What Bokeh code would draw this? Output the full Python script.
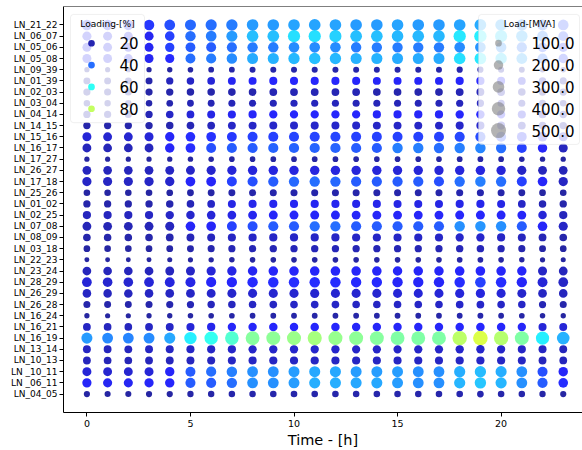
import numpy as np
from bokeh.plotting import figure
from bokeh.models import (ColumnDataSource, Range1d, LinearColorMapper,
                          FixedTicker, BoxAnnotation, Label, Span)
from bokeh.transform import transform
from bokeh.embed import file_html
from bokeh.resources import INLINE

# ---------------- data ----------------
hours = list(range(24))

# lines, in display order from top to bottom
lines = ["LN_21_22", "LN_06_07", "LN_05_06", "LN_05_08", "LN_09_39", "LN_01_39",
         "LN_02_03", "LN_03_04", "LN_04_14", "LN_14_15", "LN_15_16", "LN_16_17",
         "LN_17_27", "LN_26_27", "LN_17_18", "LN_25_26", "LN_01_02", "LN_02_25",
         "LN_07_08", "LN_08_09", "LN_03_18", "LN_22_23", "LN_23_24", "LN_28_29",
         "LN_26_29", "LN_26_28", "LN_16_24", "LN_16_21", "LN_16_19", "LN_13_14",
         "LN_10_13", "LN _10_11", "LN _06_11", "LN_04_05"]

# loading in % (one row per line, hours 0..23)
loading_pct = [
    [33,32,32,33,36,39,40,42,46,46,47,47,47,46,46,47,46,46,47,48,47,44,39,35],
    [29,28,28,29,34,40,42,46,51,51,55,55,53,51,51,50,50,50,56,57,54,48,42,35],
    [29,28,28,29,34,38,38,40,42,42,44,44,44,42,42,42,42,42,44,45,44,40,36,32],
    [29,28,28,29,31,40,42,44,48,49,50,51,50,49,49,48,48,48,55,56,53,47,40,33],
    [18,18,18,18,18,18.5,19,19,19.5,19.5,19.5,19.5,19.5,19.5,19.5,19.5,19.5,19.5,20,20,19.5,19,18.5,18],
    [19.5,19,19,19.5,21.5,23,25,29,29.5,30,30,30,30,30,29.5,29.5,29.5,29.5,30,30.5,30,27,23,20],
    [19,19,19,19,19.5,19.5,19.5,20,20,20.5,20.5,20.5,20.5,20.5,20,20,20,20,20.5,21,20.5,20,19.5,19],
    [19.5,19,19,19.5,20,20.5,20.5,21,21,21,21.5,21.5,21.5,21,21,21,21,21,21.5,22,21.5,21,20,19.5],
    [20,20,20,20.5,23,25,27,29,29.5,30,30,30,30,30,29.5,29.5,29.5,29.5,30,30.5,30,28,24,21],
    [19.5,19.5,19.5,19.5,20,20.5,21.5,23,23,23.5,23.5,23.5,23.5,23.5,23,23,23,23,23.5,24,23.5,22,21,20],
    [25,24.5,24.5,25,29.5,31.5,32,33,34,34,34.5,34.5,34.5,34,34,34,34,34,35,35.5,35,32,28,25.5],
    [21.5,21,21,21.5,29.5,31.5,36,38,38,38.5,38.5,38.5,38.5,38,38,42.5,42.5,40,42.5,43,40,34,29.5,22],
    [18,18,18,18,18,18,18.5,18.5,18.5,18.5,18.5,18.5,18.5,18.5,18.5,18.5,18.5,18.5,18.5,19,18.5,18.5,18,18],
    [22,21.5,21.5,22,22.5,23,24,25,25.5,26,26,26,26,25.5,25.5,25,25,25,25.5,26,25,23,21.5,21],
    [23,22.5,22.5,23,24,29.5,29.5,34,36,38,39,40,39,38,38,38,38,36,40,42.5,40,34,29.5,22.5],
    [18.5,18.5,18.5,18.5,18.5,19,19,19.5,19.5,19.5,19.5,19.5,19.5,19.5,19.5,19.5,19.5,19.5,20,20,19.5,19,18.5,18.5],
    [19.5,19.5,19.5,19.5,20,21,23,27,28,28.5,29,29,28.5,28,28,27,27,27,27.5,28,27,23,20.5,19.5],
    [22,22,22,22.3,23,24,25,27,28.5,29.5,29.5,29.5,29.5,29.5,29.5,29.5,29.5,29.5,30,30,29.5,29.5,25,21.5],
    [21,20.5,20.5,21,22,29.5,29.5,34,36,38,38,40,40,38,38,38,38,38,44.5,45.5,44.5,38,29.5,23],
    [19.5,19.5,19.5,19.5,20,21,22,22.5,23,23,23,23,23,23,23,23,23,23,23.5,24,23,22,20.5,19.5],
    [18.5,18.5,18.5,18.5,19,19.5,20,20.5,20.5,20.5,21,21,21,20.5,20.5,20.5,20.5,20.5,21,21,20.5,20,19,18.5],
    [18,18,18,18,18,18,18.5,18.5,18.5,18.5,18.5,18.5,18.5,18.5,18.5,18.5,18.5,18.5,19,19,18.5,18.5,18,18],
    [21.5,21.5,21.5,21.5,22,23,25,27,29,29.5,29.5,29.5,29.5,29.5,29.5,29.5,29.5,29.5,30,30,29.5,29.5,23,21.5],
    [25,24.5,24.5,25,26,27,29.5,30,31,31.5,31.5,31.5,31.5,31,31,29.5,29.5,29.5,31.5,34,31.5,29.5,25,23],
    [22.3,22,22,22.3,22.5,23,24,24,24.5,24.5,24.5,24.5,24.5,24.5,24.5,25,25,25,25.5,26,25,24,22.5,22],
    [19.5,19.5,19.5,19.5,20,20.5,21.5,22,22.5,22.5,23,23,23,22.5,22.5,23,23,23,23.5,23.5,23,23,20.5,19.5],
    [18,18,18,18,18,18.5,18.5,19,19,19,19,19,19,19,19,19,19,19,19.5,19.5,19,19,18.5,18],
    [22.3,22,22,22.3,23,25,28,29.5,29.5,30,30,30,30,29.5,29.5,29.5,29.5,29.5,30,30.5,30,29.5,25,25],
    [46,43.5,43,44,47.5,57,61,65,72,73,74.5,76,74,73,72,71,71,71,79,83,78,71,57,49],
    [22.3,22,22,22.3,22.5,23,23,23.5,23.5,23.5,24,24,24,23.5,23.5,23.5,23.5,23.5,24,24,23.5,23,22.5,21.5],
    [21.5,21,21,21.5,21.5,22,22,22.3,22.5,22.5,22.5,22.5,22.5,22.5,22.5,22.3,22.3,22.3,22.5,23,22.5,22.3,21.5,21.5],
    [25,24.5,24.5,25,29.5,38,40,42.5,44.5,44.5,46.5,47.5,47.5,46.5,46.5,46.5,44.5,44.5,48.5,50.5,48.5,44.5,36,29.5],
    [29.5,29,29,29.5,30,38,38,40,44.5,44.5,46.5,48.5,48.5,47.5,47.5,46.5,44.5,44.5,49.5,51.5,49.5,44.5,38,31.5],
    [18.5,18.5,18.5,18.5,18.5,19,19,19.5,19.5,19.5,19.5,19.5,19.5,19.5,19.5,19.5,19.5,19.5,20,20,19.5,19.5,19,18.5],
]

# load in MVA (one row per line, hours 0..23)
load_mva = [
    [245,240,238,245,258,272,280,288,298,300,302,304,302,300,298,300,298,298,302,306,302,290,272,255],
    [185,180,178,185,205,240,255,270,300,305,330,335,325,305,302,300,300,300,335,340,325,290,255,215],
    [180,176,175,180,195,215,220,228,240,242,250,252,250,242,240,240,240,240,250,254,250,232,210,190],
    [180,176,174,180,186,220,232,245,270,275,285,290,285,275,275,270,270,270,300,305,292,262,228,195],
    [62,60,60,62,64,70,74,76,80,80,81,82,81,80,80,80,80,80,84,85,83,78,70,65],
    [108,105,104,108,118,125,132,140,142,144,145,146,145,144,142,142,142,142,146,148,145,135,122,110],
    [115,112,112,115,120,124,126,130,132,134,135,135,135,134,132,132,132,132,136,138,135,128,122,116],
    [95,92,92,95,100,104,106,110,112,112,114,114,114,112,112,112,112,112,116,118,115,110,104,98],
    [118,115,114,118,128,135,140,145,150,152,153,154,153,152,150,150,150,150,155,158,154,145,132,122],
    [120,118,118,120,125,130,134,138,140,142,142,143,142,142,140,140,140,140,144,146,143,136,128,122],
    [180,176,175,180,195,205,210,215,222,224,226,226,225,222,222,222,222,222,228,230,226,214,198,185],
    [175,170,170,175,200,210,220,228,230,232,232,232,232,230,230,240,240,236,242,245,236,218,200,180],
    [62,60,60,62,63,65,68,70,71,72,72,72,72,71,71,71,71,71,73,74,72,68,64,62],
    [170,166,165,170,175,180,186,190,194,196,196,197,196,194,194,192,192,192,196,198,194,184,174,168],
    [190,186,185,190,195,210,212,222,228,232,235,238,235,232,232,232,232,228,238,244,238,222,208,192],
    [98,96,96,98,100,104,106,108,110,110,111,111,111,110,110,110,110,110,112,114,111,106,101,98],
    [120,118,118,120,124,128,134,142,145,146,148,148,147,145,145,143,143,143,146,148,144,134,125,120],
    [150,148,147,150,156,160,165,170,175,178,178,179,178,177,177,176,176,176,180,182,178,175,162,152],
    [175,172,170,175,182,205,208,218,224,228,228,232,232,228,228,228,228,228,240,244,240,226,205,185],
    [130,128,127,130,134,138,142,146,148,150,150,150,150,148,148,148,148,148,152,154,150,144,136,130],
    [100,98,98,100,104,108,112,116,118,120,120,121,120,118,118,118,118,118,122,124,120,114,106,100],
    [55,54,54,55,57,60,64,68,70,70,71,71,71,70,70,70,70,70,72,74,71,67,61,57],
    [170,167,166,170,176,182,188,195,200,202,203,204,203,202,202,200,200,200,205,207,203,198,182,172],
    [210,206,205,210,216,222,230,236,240,242,243,244,243,240,240,238,238,238,245,250,245,236,218,210],
    [165,162,161,165,170,174,178,182,184,186,186,187,186,185,185,184,184,184,188,190,186,180,170,165],
    [110,108,107,110,114,118,122,126,128,130,130,130,130,128,128,128,128,128,132,134,130,126,116,110],
    [62,60,60,62,64,68,70,72,74,74,75,75,75,74,74,74,74,74,76,78,75,72,67,63],
    [135,132,131,135,140,146,152,156,158,160,160,161,160,158,158,158,158,158,162,164,160,156,145,140],
    [272,262,260,265,275,345,400,410,430,435,440,445,440,435,432,430,430,430,465,475,460,435,395,360],
    [140,138,137,140,143,146,148,150,152,153,154,154,154,152,152,152,152,152,155,156,153,148,143,138],
    [135,132,131,135,138,141,143,145,147,148,148,149,148,147,147,146,146,146,149,150,148,144,138,134],
    [180,176,175,180,195,220,232,245,258,260,268,272,272,268,266,266,260,260,278,285,276,258,225,198],
    [190,186,185,190,198,225,228,238,258,260,268,275,275,272,272,268,260,260,280,288,280,260,232,205],
    [85,83,83,85,87,90,92,94,96,96,97,97,97,96,96,96,96,96,98,100,97,94,90,86],
]

x_ticks = [0, 5, 10, 15, 20]
x_label = "Time - [h]"
loading_legend = [20, 40, 60, 80]
load_legend = [100, 200, 300, 400, 500]

# ---------------- styling helpers ----------------
FONT = "DejaVu Sans"


def jet_hex(t):
    r = min(max(min(4 * t - 1.5, -4 * t + 4.5), 0), 1)
    g = min(max(min(4 * t - 0.5, -4 * t + 3.5), 0), 1)
    b = min(max(min(4 * t + 0.5, -4 * t + 2.5), 0), 1)
    return "#%02x%02x%02x" % (round(r * 255), round(g * 255), round(b * 255))


jet = [jet_hex(i / 255) for i in range(256)]
C_LOW, C_HIGH = 16, 131
mapper = LinearColorMapper(palette=jet, low=C_LOW, high=C_HIGH)


def marker_size(mva):
    return np.sqrt(0.45 * np.asarray(mva, dtype=float))


# categorical positions: first line at the top, last at the bottom (index 0)
n_lines = len(lines)
cat_pos = {name: n_lines - 1 - i for i, name in enumerate(lines)}

xs, ys, lp, lm = [], [], [], []
for name, lrow, mrow in zip(lines, loading_pct, load_mva):
    for h, l, m in zip(hours, lrow, mrow):
        xs.append(h)
        ys.append(cat_pos[name])
        lp.append(l)
        lm.append(m)

src = ColumnDataSource(dict(hour=xs, line_pos=ys, loading=lp, load=lm, size=marker_size(lm)))

# frame geometry (pixels in the page)
FL, FR, FT, FB = 63, 582, 6, 415
pad = 0.05 * (n_lines - 1)

p = figure(width=582, height=450,
           x_range=Range1d(-1.13, 23.93),
           y_range=Range1d(-pad, n_lines - 1 + pad),
           output_backend="svg", toolbar_location=None,
           min_border_left=FL, min_border_right=0, min_border_top=FT,
           min_border_bottom=450 - FB)
# helper ranges in page pixels for legend layout
p.extra_x_ranges = {"px": Range1d(FL, FR)}
p.extra_y_ranges = {"py": Range1d(0, FB - FT)}


def py(Y):
    return FB - Y


p.scatter("hour", "line_pos", source=src, size="size",
          fill_color=transform("loading", mapper), fill_alpha=0.85, line_color=None)

p.xgrid.visible = False
p.ygrid.visible = False
p.outline_line_color = None
p.background_fill_color = "white"
p.border_fill_color = "white"

for ax in (p.xaxis[0], p.yaxis[0]):
    ax.axis_line_color = "black"
    ax.axis_line_width = 1
    ax.major_tick_line_color = "black"
    ax.minor_tick_line_color = None
    ax.major_tick_out = 4
    ax.major_tick_in = 0
    ax.major_label_text_font = FONT
    ax.major_label_text_color = "black"

p.xaxis.major_label_text_font_size = "9.5px"
p.yaxis.major_label_text_font_size = "9px"

p.xaxis.ticker = FixedTicker(ticks=x_ticks)
p.xaxis.major_label_standoff = 3
p.xaxis.axis_label = x_label
p.xaxis.axis_label_text_font = FONT
p.xaxis.axis_label_text_font_size = "14.5px"
p.xaxis.axis_label_text_font_style = "normal"
p.xaxis.axis_label_text_color = "black"
p.xaxis.axis_label_standoff = 2

p.yaxis.ticker = FixedTicker(ticks=list(range(n_lines)))
p.yaxis.major_label_overrides = {cat_pos[name]: name for name in lines}
p.yaxis.major_label_standoff = 2

# top spine
p.add_layout(Span(location=py(FT), dimension="width", y_range_name="py",
                  line_color="black", line_width=1))


def legend_box(left, right, top, bottom):
    p.add_layout(BoxAnnotation(left=left, right=right, top=py(top), bottom=py(bottom),
                               x_range_name="px", y_range_name="py",
                               fill_color="white", fill_alpha=0.8,
                               line_color="#cccccc", line_width=1, border_radius=3))


def text(x, y, s, size, align="left"):
    p.add_layout(Label(x=x, y=py(y), text=s, x_range_name="px", y_range_name="py",
                       text_font=FONT, text_font_size=size, text_color="black",
                       text_align=align, text_baseline="middle", level="overlay"))


# Legend 1 : Loading-[%]
legend_box(70, 144, 14, 123)
text(107, 24, "Loading-[%]", "9px", "center")
l1_y = [py(43 + 22 * i) for i in range(len(loading_legend))]
p.scatter(x=[91] * len(loading_legend), y=l1_y, size=6.7,
          fill_color=[jet[int(round((v - C_LOW) / (C_HIGH - C_LOW) * 255))] for v in loading_legend],
          fill_alpha=0.85, line_color=None, x_range_name="px", y_range_name="py", level="overlay")
for i, v in enumerate(loading_legend):
    text(119, 43 + 22 * i, str(v), "15px")

# Legend 2 : Load-[MVA]
legend_box(478, 579, 14, 145)
text(529, 24, "Load-[MVA]", "9px", "center")
l2_y = [py(43 + 22 * i) for i in range(len(load_legend))]
p.scatter(x=[498] * len(load_legend), y=l2_y, size=marker_size(load_legend),
          fill_color="#808080", fill_alpha=0.6, line_color=None,
          x_range_name="px", y_range_name="py", level="overlay")
for i, v in enumerate(load_legend):
    text(531, 43 + 22 * i, f"{v:.1f}", "15px")

open("out.html", "w").write(file_html(p, INLINE))
